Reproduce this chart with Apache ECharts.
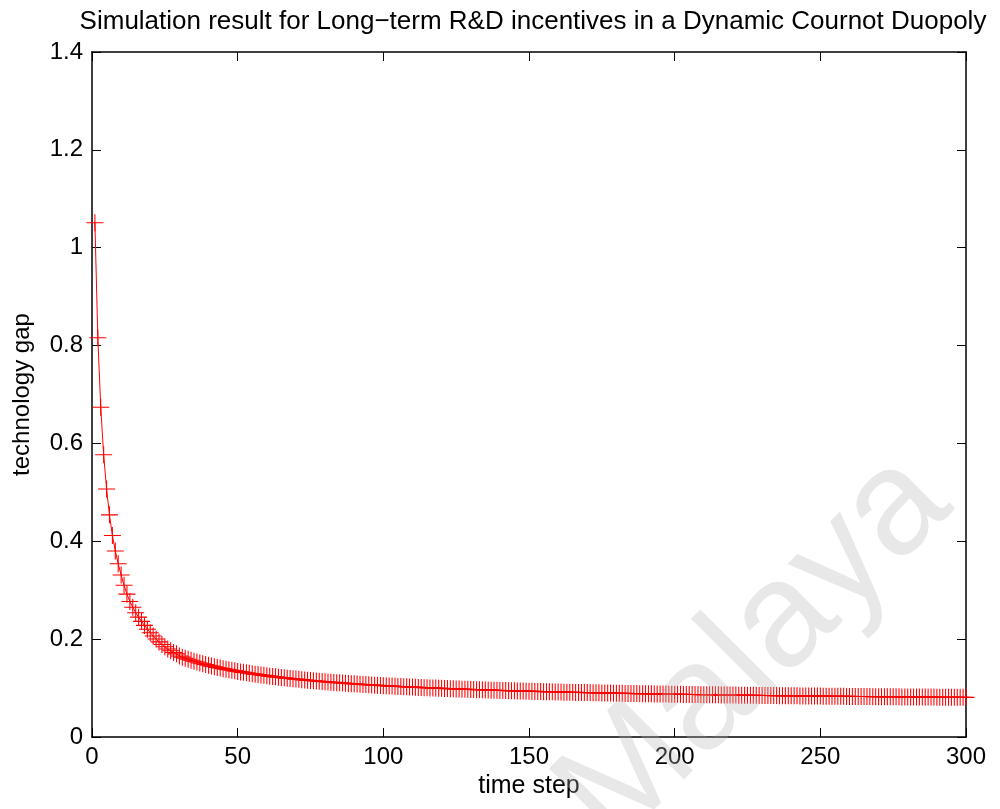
<!DOCTYPE html>
<html>
<head>
<meta charset="utf-8">
<script src="https://cdn.jsdelivr.net/npm/echarts@6/dist/echarts.min.js"></script>
<style>
html,body{margin:0;padding:0;background:#fff;}
#chart{width:1000px;height:809px;}
</style>
</head>
<body>
<div id="chart"></div>
<script>
// time steps 1..300
const timeSteps = Array.from({length: 300}, (_, i) => i + 1);
// technology gap values
const techGap = [
1.051,0.816,0.674,0.577,0.507,0.454,0.412,0.380,0.354,0.331,
0.310,0.292,0.277,0.265,0.254,0.245,0.2363,0.2281,0.2204,0.2132,
0.2065,0.2002,0.1944,0.1891,0.1843,0.1800,0.1762,0.1728,0.1699,0.1655,
0.1632,0.1610,0.1589,0.1569,0.1550,0.1532,0.1514,0.1497,0.1481,0.1465,
0.1449,0.1436,0.1422,0.1410,0.1397,0.1385,0.1374,0.1363,0.1352,0.1341,
0.1331,0.1321,0.1312,0.1302,0.1293,0.1285,0.1276,0.1268,0.1260,0.1252,
0.1244,0.1237,0.1229,0.1222,0.1216,0.1209,0.1202,0.1196,0.1190,0.1183,
0.1178,0.1172,0.1166,0.1160,0.1155,0.1150,0.1144,0.1139,0.1134,0.1130,
0.1125,0.1120,0.1116,0.1111,0.1107,0.1102,0.1098,0.1094,0.1090,0.1086,
0.1082,0.1078,0.1074,0.1071,0.1067,0.1063,0.1060,0.1057,0.1053,0.1050,
0.1047,0.1043,0.1040,0.1037,0.1034,0.1031,0.1028,0.1025,0.1022,0.1020,
0.1017,0.1014,0.1011,0.1009,0.1006,0.1004,0.1001,0.0999,0.0996,0.0994,
0.0991,0.0989,0.0987,0.0985,0.0982,0.0980,0.0978,0.0976,0.0974,0.0972,
0.0970,0.0967,0.0965,0.0964,0.0962,0.0960,0.0958,0.0956,0.0954,0.0952,
0.0950,0.0949,0.0947,0.0945,0.0943,0.0942,0.0940,0.0938,0.0937,0.0935,
0.0934,0.0932,0.0931,0.0929,0.0927,0.0926,0.0924,0.0923,0.0922,0.0920,
0.0919,0.0917,0.0916,0.0915,0.0913,0.0912,0.0911,0.0909,0.0908,0.0907,
0.0905,0.0904,0.0903,0.0902,0.0901,0.0899,0.0898,0.0897,0.0896,0.0895,
0.0894,0.0892,0.0891,0.0890,0.0889,0.0888,0.0887,0.0886,0.0885,0.0884,
0.0883,0.0882,0.0881,0.0880,0.0879,0.0878,0.0877,0.0876,0.0875,0.0874,
0.0873,0.0872,0.0871,0.0870,0.0869,0.0868,0.0868,0.0867,0.0866,0.0865,
0.0864,0.0863,0.0862,0.0862,0.0861,0.0860,0.0859,0.0858,0.0858,0.0857,
0.0856,0.0855,0.0854,0.0854,0.0853,0.0852,0.0851,0.0851,0.0850,0.0849,
0.0848,0.0848,0.0847,0.0846,0.0846,0.0845,0.0844,0.0844,0.0843,0.0842,
0.0842,0.0841,0.0840,0.0840,0.0839,0.0838,0.0838,0.0837,0.0836,0.0836,
0.0835,0.0835,0.0834,0.0833,0.0833,0.0832,0.0832,0.0831,0.0830,0.0830,
0.0829,0.0829,0.0828,0.0828,0.0827,0.0826,0.0826,0.0825,0.0825,0.0824,
0.0824,0.0823,0.0823,0.0822,0.0822,0.0821,0.0821,0.0820,0.0820,0.0819,
0.0819,0.0818,0.0818,0.0817,0.0817,0.0816,0.0816,0.0815,0.0815,0.0814,
0.0814,0.0813,0.0813,0.0812,0.0812,0.0812,0.0811,0.0811,0.0810,0.0810
];
const xTicks = [0, 50, 100, 150, 200, 250, 300];
const yTicks = [0, 0.2, 0.4, 0.6, 0.8, 1, 1.2, 1.4];

const titleText = 'Simulation result for Long\u2212term R&D incentives in a Dynamic Cournot Duopoly';
const FONT = '"Liberation Sans", Arial, Helvetica, sans-serif';

const chart = echarts.init(document.getElementById('chart'), null, {renderer: 'canvas'});
const plusSymbol = 'path://M-8,-0.5 L8,-0.5 L8,0.5 L-8,0.5 Z M-0.5,-8 L0.5,-8 L0.5,8 L-0.5,8 Z';

function baseX(extra) {
  return Object.assign({
    type: 'value', min: xTicks[0], max: xTicks[xTicks.length - 1], interval: 50,
    axisLine: {show: true, onZero: false, lineStyle: {color: '#000', width: 1.5}},
    axisTick: {show: true, inside: true, length: 9, lineStyle: {color: '#000', width: 1}},
    splitLine: {show: false}
  }, extra);
}
function baseY(extra) {
  return Object.assign({
    type: 'value', min: yTicks[0], max: yTicks[yTicks.length - 1], interval: 0.2,
    axisLine: {show: true, onZero: false, lineStyle: {color: '#000', width: 1.5}},
    axisTick: {show: true, inside: true, length: 9, lineStyle: {color: '#000', width: 1}},
    splitLine: {show: false}
  }, extra);
}

chart.setOption({
  backgroundColor: '#fff',
  animation: false,
  title: {
    text: titleText, left: 528, top: 4, textAlign: 'center',
    textStyle: {fontFamily: FONT, fontSize: 26, fontWeight: 'normal', color: '#000'}
  },
  grid: {left: 92, right: 34, top: 52, bottom: 72, containLabel: false},
  xAxis: [
    baseX({
      position: 'bottom', name: 'time step', nameLocation: 'middle', nameGap: 37,
      nameTextStyle: {fontFamily: FONT, fontSize: 25, color: '#000'},
      axisLabel: {show: true, margin: 8, fontFamily: FONT, fontSize: 24, color: '#000'}
    }),
    baseX({position: 'top', axisLabel: {show: false}})
  ],
  yAxis: [
    baseY({
      position: 'left', name: 'technology gap', nameLocation: 'middle', nameGap: 58,
      nameTextStyle: {fontFamily: FONT, fontSize: 24, color: '#000'},
      axisLabel: {show: true, margin: 9, fontFamily: FONT, fontSize: 24, color: '#000'}
    }),
    baseY({position: 'right', axisLabel: {show: false}})
  ],
  graphic: [{
    type: 'text', z: 100, silent: true,
    x: 755, y: 650, rotation: 45 * Math.PI / 180,
    style: {
      text: 'Malaya', fontFamily: FONT, fontSize: 150, fill: 'rgba(180,180,180,0.3)',
      align: 'center', verticalAlign: 'middle'
    }
  }],
  series: [{
    type: 'line',
    data: timeSteps.map((t, i) => [t, techGap[i]]),
    showSymbol: true, showAllSymbol: true,
    symbol: plusSymbol, symbolSize: 17,
    lineStyle: {color: '#ff0000', width: 1},
    itemStyle: {color: '#ff0000'},
    emphasis: {disabled: true}
  }]
});
</script>
</body>
</html>
